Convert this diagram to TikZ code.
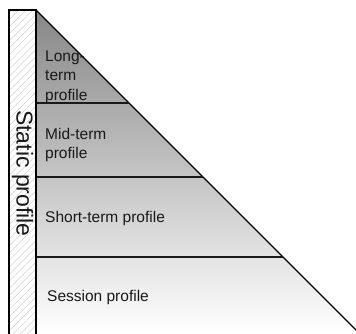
\documentclass[tikz,border=0pt]{standalone}
\usepackage{fontspec}
\setmainfont{Liberation Sans}
\usetikzlibrary{patterns.meta}
\begin{document}
\begin{tikzpicture}[x=1pt,y=-1pt,
  band/.style={line width=1.5pt,black!90},
  lbl/.style={anchor=west,align=left,text=black!90,font=\fontsize{15.5}{19.5}\selectfont,inner sep=0pt}]
\useasboundingbox (0,0) rectangle (356,333);
\begin{scope}
\clip (0,0) rectangle (356,333);
% triangle with gradient
\shade[top color=black!47,bottom color=white] (36,10) -- (359,333) -- (36,333) -- cycle;
\draw[line width=1.4pt] (36,10) -- (359,333);
\draw[band] (36,103) -- (129,103);
\draw[band] (36,177) -- (203,177);
\draw[band] (36,257) -- (283,257);
% static bar
\fill[white] (9,10) rectangle (36,340);
\fill[pattern={Lines[angle=45,distance=5pt,line width=0.5pt]},pattern color=black!18] (9,10) rectangle (36,340);
\draw[line width=1.8pt] (9,340) -- (9,10) -- (36,10) -- (36,340);
\end{scope}
\node[lbl] (lt) at (45,77) {Long-\\term\\profile};
\node[lbl] (mt) at (45,145) {Mid-term\\profile};
\node[lbl] (st) at (45,218) {Short-term profile};
\node[lbl] (se) at (47,297) {Session profile};
\node[rotate=-90,text=black!90,font=\fontsize{23}{26}\selectfont,inner sep=0pt] (sp) at (22.5,173.5) {Static profile};
\end{tikzpicture}
\end{document}
